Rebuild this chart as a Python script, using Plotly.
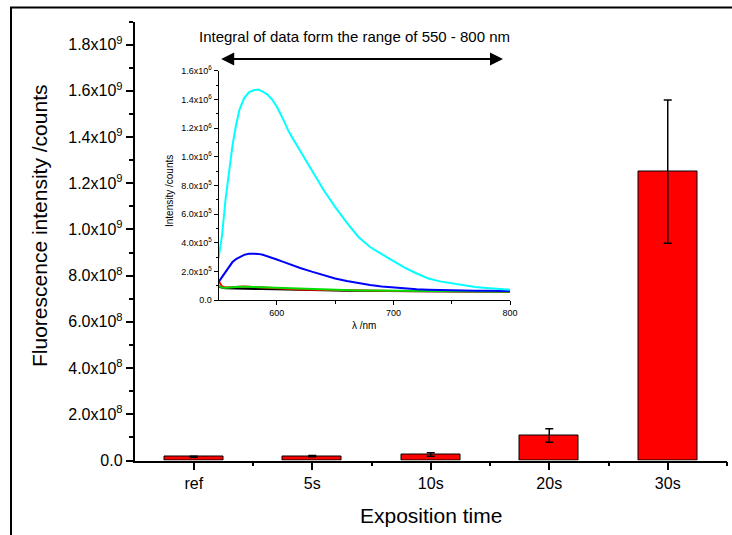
import plotly.graph_objects as go

# ---------------- main bar chart data ----------------
categories = ["ref", "5s", "10s", "20s", "30s"]
intensity = [1.6e7, 1.9e7, 2.6e7, 1.08e8, 1.25e9]
intensity_err = [0.2e7, 0.3e7, 0.8e7, 0.29e8, 0.31e9]

main_y_ticks = [0, 0.2e9, 0.4e9, 0.6e9, 0.8e9, 1.0e9, 1.2e9, 1.4e9, 1.6e9, 1.8e9]
main_y_ticktext = ["0.0", "2.0x10<sup>8</sup>", "4.0x10<sup>8</sup>", "6.0x10<sup>8</sup>",
                   "8.0x10<sup>8</sup>", "1.0x10<sup>9</sup>", "1.2x10<sup>9</sup>",
                   "1.4x10<sup>9</sup>", "1.6x10<sup>9</sup>", "1.8x10<sup>9</sup>"]
main_y_minor = [0.1e9, 0.3e9, 0.5e9, 0.7e9, 0.9e9, 1.1e9, 1.3e9, 1.5e9, 1.7e9, 1.9e9]

# ---------------- inset spectra data ----------------
wavelength = [550, 553, 556, 559, 562, 565, 568, 572, 576, 580, 584, 588, 592, 596, 600,
              605, 610, 615, 620, 630, 640, 650, 660, 670, 680, 690, 700, 710, 720, 730,
              740, 750, 760, 770, 780, 790, 800]
spec_black = [0.095, 0.085, 0.082, 0.082, 0.082, 0.082, 0.081, 0.080, 0.079, 0.078, 0.077,
              0.076, 0.075, 0.075, 0.074, 0.073, 0.072, 0.071, 0.070, 0.068, 0.067, 0.066,
              0.065, 0.064, 0.063, 0.063, 0.062, 0.061, 0.061, 0.060, 0.060, 0.059, 0.059,
              0.059, 0.058, 0.058, 0.058]
spec_red = [0.135, 0.095, 0.088, 0.090, 0.092, 0.093, 0.094, 0.094, 0.092, 0.090, 0.087,
            0.085, 0.083, 0.081, 0.080, 0.078, 0.076, 0.075, 0.074, 0.071, 0.069, 0.067,
            0.066, 0.065, 0.064, 0.064, 0.063, 0.062, 0.062, 0.061, 0.061, 0.060, 0.060,
            0.060, 0.059, 0.059, 0.059]
spec_green = [0.100, 0.085, 0.085, 0.088, 0.090, 0.092, 0.093, 0.093, 0.092, 0.091, 0.089,
              0.087, 0.085, 0.083, 0.082, 0.080, 0.078, 0.077, 0.076, 0.073, 0.071, 0.069,
              0.068, 0.067, 0.066, 0.065, 0.064, 0.063, 0.063, 0.062, 0.062, 0.061, 0.061,
              0.060, 0.060, 0.060, 0.060]
spec_blue = [0.125, 0.160, 0.200, 0.235, 0.265, 0.285, 0.300, 0.315, 0.323, 0.325, 0.322,
             0.316, 0.306, 0.295, 0.283, 0.268, 0.252, 0.238, 0.224, 0.198, 0.172, 0.150,
             0.132, 0.117, 0.105, 0.095, 0.087, 0.080, 0.075, 0.072, 0.069, 0.067, 0.066,
             0.065, 0.064, 0.063, 0.062]
spec_cyan = [0.29, 0.45, 0.70, 0.90, 1.08, 1.22, 1.33, 1.41, 1.45, 1.465, 1.47, 1.455,
             1.435, 1.40, 1.35, 1.27, 1.18, 1.11, 1.04, 0.91, 0.77, 0.65, 0.54, 0.44, 0.37,
             0.32, 0.27, 0.225, 0.185, 0.15, 0.13, 0.115, 0.10, 0.09, 0.083, 0.077, 0.072]
spec_scale = 1e6  # spectra above are in units of 10^6 counts

inset_y_ticks = [0, 0.2e6, 0.4e6, 0.6e6, 0.8e6, 1.0e6, 1.2e6, 1.4e6, 1.6e6]
inset_y_ticktext = ["0.0", "2.0x10<sup>5</sup>", "4.0x10<sup>5</sup>", "6.0x10<sup>5</sup>",
                    "8.0x10<sup>5</sup>", "1.0x10<sup>6</sup>", "1.2x10<sup>6</sup>",
                    "1.4x10<sup>6</sup>", "1.6x10<sup>6</sup>"]
inset_y_minor = [0.1e6, 0.3e6, 0.5e6, 0.7e6, 0.9e6, 1.1e6, 1.3e6, 1.5e6]

# integration range marked by the double arrow (nm)
arrow_range = [551, 794]

# ---------------- geometry helpers (pixels -> paper, zero margins) ----------------
W, H = 732, 535


def xp(px):
    return px / W


def yp(py):
    return (H - py) / H


FONT = "Arial, 'Liberation Sans', sans-serif"

fig = go.Figure()

xidx = list(range(len(categories)))
fig.add_trace(go.Bar(
    x=xidx, y=intensity, width=0.5,
    marker=dict(color="#ff0000", line=dict(color="black", width=1)),
    error_y=dict(type="data", array=intensity_err, visible=True,
                 color="black", thickness=1.5, width=4),
    showlegend=False, xaxis="x", yaxis="y",
))

for vals, col in [(spec_black, "black"), (spec_red, "#ff0000"), (spec_green, "#00e000"),
                  (spec_blue, "#0000ff"), (spec_cyan, "#00ffff")]:
    fig.add_trace(go.Scatter(
        x=wavelength, y=[v * spec_scale for v in vals], mode="lines",
        line=dict(color=col, width=2), showlegend=False,
        xaxis="x2", yaxis="y2",
    ))

# outer frame of the figure (pixel-space overlay axes)
fig.add_trace(go.Scatter(
    x=[11, 11, W + 10], y=[H + 10, 7.5, 7.5], mode="lines",
    line=dict(color="black", width=2), showlegend=False, hoverinfo="skip",
    xaxis="x3", yaxis="y3",
))

axis_common = dict(showline=True, linecolor="black", showgrid=False, zeroline=False,
                   ticks="outside", tickcolor="black", automargin=False)
hidden = dict(visible=False, showgrid=False, zeroline=False, automargin=False)

fig.update_layout(
    width=W, height=H,
    margin=dict(l=0, r=0, t=0, b=0, pad=0),
    paper_bgcolor="white", plot_bgcolor="rgba(0,0,0,0)",
    font=dict(family=FONT, color="black"),
    bargap=0,
    xaxis=dict(**axis_common, domain=[xp(134.5), xp(727)], range=[-0.5, 4.5], linewidth=1.5,
               tickmode="array", tickvals=xidx, ticktext=categories,
               ticklen=8, tickwidth=1.5, tickfont=dict(size=16),
               minor=dict(tickmode="array", tickvals=[0.5, 1.5, 2.5, 3.5, 4.5],
                          ticks="outside", ticklen=4, tickwidth=1.5, tickcolor="black"),
               anchor="y"),
    yaxis=dict(**axis_common, domain=[yp(460.5), yp(21.5)], range=[0, 1.9e9], linewidth=1.5,
               tickmode="array", tickvals=main_y_ticks, ticktext=main_y_ticktext,
               ticklen=7, tickwidth=1.5, tickfont=dict(size=16),
               minor=dict(tickmode="array", tickvals=main_y_minor,
                          ticks="outside", ticklen=4, tickwidth=1.5, tickcolor="black"),
               anchor="x"),
    xaxis2=dict(**axis_common, domain=[xp(218.5), xp(510)], range=[550, 800], linewidth=1,
                tickmode="array", tickvals=[600, 700, 800], ticklen=4, tickwidth=1,
                tickfont=dict(size=9),
                minor=dict(tickmode="array", tickvals=[650, 750],
                           ticks="outside", ticklen=3, tickwidth=1, tickcolor="black"),
                anchor="y2"),
    yaxis2=dict(**axis_common, domain=[yp(300), yp(70.9)], range=[0, 1.6e6], linewidth=1,
                tickmode="array", tickvals=inset_y_ticks, ticktext=inset_y_ticktext,
                ticklen=4, tickwidth=1, tickfont=dict(size=9),
                minor=dict(tickmode="array", tickvals=inset_y_minor,
                           ticks="outside", ticklen=2, tickwidth=1, tickcolor="black"),
                anchor="x2"),
    xaxis3=dict(**hidden, domain=[0, 1], range=[0, W], anchor="y3"),
    yaxis3=dict(**hidden, domain=[0, 1], range=[H, 0], anchor="x3"),
    annotations=[
        dict(text="Fluorescence intensity /counts", xref="paper", yref="paper",
             x=xp(40), y=yp(226), textangle=-90, showarrow=False,
             font=dict(size=21), xanchor="center", yanchor="middle"),
        dict(text="Exposition time", xref="paper", yref="paper",
             x=xp(430.5), y=yp(515), showarrow=False,
             font=dict(size=21), xanchor="center", yanchor="middle"),
        dict(text="Intensity /counts", xref="paper", yref="paper",
             x=xp(170), y=yp(191), textangle=-90, showarrow=False,
             font=dict(size=10), xanchor="center", yanchor="middle"),
        dict(text="λ /nm", xref="paper", yref="paper",
             x=xp(364), y=yp(325), showarrow=False,
             font=dict(size=10), xanchor="center", yanchor="middle"),
        dict(text="Integral of data form the range of 550 - 800 nm", xref="paper", yref="paper",
             x=xp(354.7), y=yp(36.7), showarrow=False,
             font=dict(size=15), xanchor="center", yanchor="middle"),
        dict(text="", xref="x2", yref="paper", axref="x2", ayref="pixel",
             x=arrow_range[1], y=yp(59), ax=arrow_range[0], ay=0, showarrow=True,
             arrowside="end+start", arrowhead=2, startarrowhead=2,
             arrowsize=1.3, startarrowsize=1.3, arrowwidth=2, arrowcolor="black"),
    ],
)

fig.write_html("out.html")
